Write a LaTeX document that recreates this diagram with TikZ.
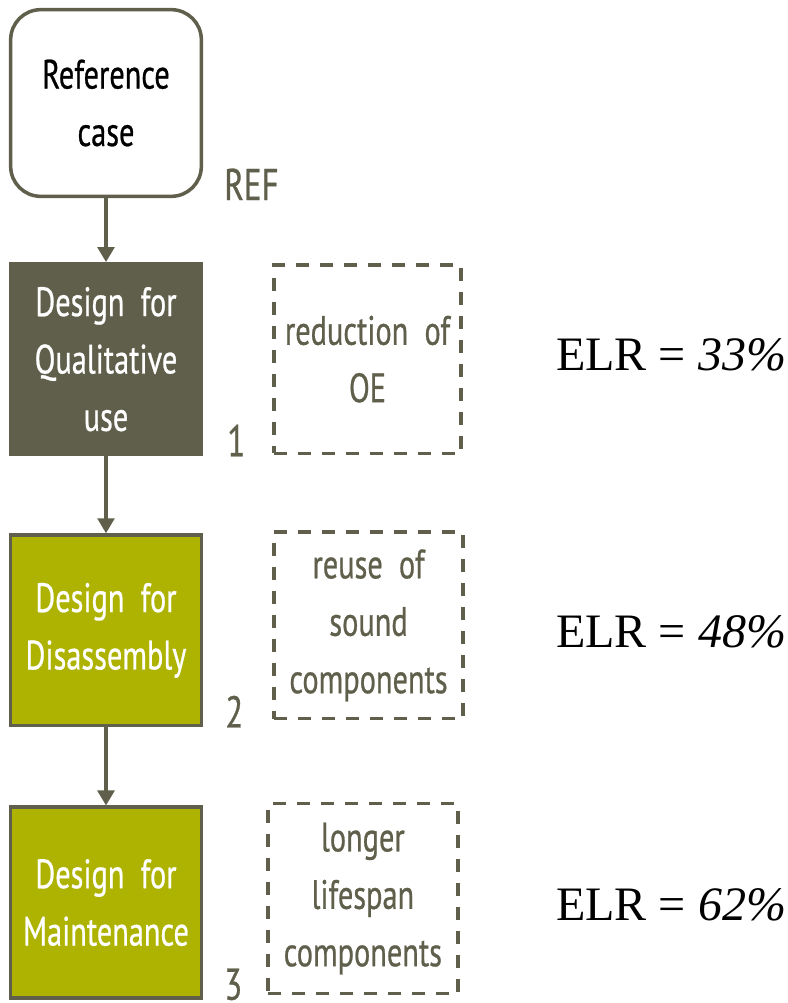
\documentclass[tikz,border=0pt]{standalone}
\usepackage{fontspec}
\setmainfont{Liberation Serif}
\newfontfamily\gillfont[FakeStretch=0.74, FakeBold=0.6]{PT Sans}
\usetikzlibrary{arrows.meta, positioning}
\definecolor{olivegray}{HTML}{5F5F4B}
\definecolor{olivelime}{HTML}{ADB300}

\begin{document}
\begin{tikzpicture}[
  x=0.03cm, y=-0.03cm,
  font=\gillfont\fontsize{35}{49}\selectfont,
  stage/.style={draw=olivegray, line width=3pt, align=center, minimum width=5.72cm, minimum height=5.72cm, inner sep=0pt, execute at begin node=\rule{0pt}{36pt}},
  effect/.style={draw=olivegray, line width=3pt, dash pattern=on 0.39cm off 0.33cm, text=olivegray, align=center, inner sep=0pt, execute at begin node=\rule{0pt}{36pt}},
  num/.style={text=olivegray, font=\gillfont\fontsize{38}{44}\selectfont, anchor=base west, inner sep=0pt},
  elr/.style={font=\fontsize{41}{48}\selectfont, anchor=base west, inner sep=0pt},
  arrow/.style={-{Triangle[length=0.45cm, width=0.5cm]}, draw=olivegray, line width=3pt}
]
\useasboundingbox (0,0) rectangle (788,1003);

\node[stage, rounded corners=0.9cm, minimum height=5.6cm, fill=white] (ref) at (106,103) {Reference\\case};
\node[stage, fill=olivegray, text=white, below=1.92cm of ref] (qual) {Design~ for\\Qualitative\\use};
\node[stage, fill=olivelime, text=white, below=2.31cm of qual] (disas) {Design~ for\\Disassembly};
\node[stage, fill=olivelime, text=white, below=2.34cm of disas] (maint) {Design~ for\\Maintenance};

% strategy effects
\node[effect, minimum width=5.62cm, minimum height=5.65cm, right=2.07cm of qual] (oe) {reduction~ of\\OE};
\node[effect, minimum width=5.68cm, minimum height=5.6cm, right=2.07cm of disas, yshift=0.15cm] (reuse) {reuse~ of\\sound\\components};
\node[effect, minimum width=5.7cm, minimum height=5.7cm, right=1.89cm of maint, yshift=0.12cm] (life) {longer\\lifespan\\components};

\node[num, xshift=0.63cm, yshift=-0.06cm] (nref) at (ref.south east) {REF};
\node[num, xshift=0.72cm] (n1) at (qual.south east) {1};
\node[num, xshift=0.66cm] (n2) at (disas.south east) {2};
\node[num, xshift=0.63cm] (n3) at (maint.south east) {3};

\node[elr] (elr1) at (556,370) {ELR = \textit{33\%}};
\node[elr] (elr2) at (556,647) {ELR = \textit{48\%}};
\node[elr] (elr3) at (556,920) {ELR = \textit{62\%}};

\draw[arrow] (ref) -- (qual);
\draw[arrow] (qual) -- (disas);
\draw[arrow] (disas) -- (maint);
\end{tikzpicture}
\end{document}
